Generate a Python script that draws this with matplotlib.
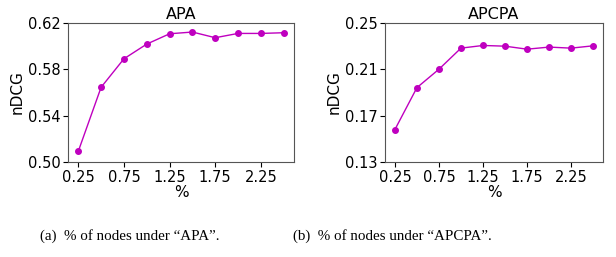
import matplotlib.pyplot as plt

# Data
percent = [0.25, 0.5, 0.75, 1.0, 1.25, 1.5, 1.75, 2.0, 2.25, 2.5]
ndcg_apa = [0.5092, 0.5645, 0.5891, 0.6018, 0.6107, 0.6122, 0.6073, 0.6110, 0.6110, 0.6116]
ndcg_apcpa = [0.1580, 0.1942, 0.2101, 0.2283, 0.2306, 0.2300, 0.2274, 0.2292, 0.2283, 0.2303]

xticks = [0.25, 0.75, 1.25, 1.75, 2.25]
yticks_apa = [0.50, 0.54, 0.58, 0.62]
yticks_apcpa = [0.13, 0.17, 0.21, 0.25]

fig = plt.figure(figsize=(6.16, 2.57), dpi=100)

panels = [
    ([68/616, 1-162/257, 226/616, 139/257], ndcg_apa, yticks_apa, 'APA'),
    ([385/616, 1-162/257, 218/616, 139/257], ndcg_apcpa, yticks_apcpa, 'APCPA'),
]

for rect, vals, yt, title in panels:
    ax = fig.add_axes(rect)
    ax.plot(percent, vals, color='m', marker='o', markersize=4, linewidth=1)
    ax.set_ylim(yt[0], yt[-1])
    ax.set_yticks(yt)
    ax.set_yticklabels(['%.2f' % v for v in yt])
    ax.set_xticks(xticks)
    ax.set_xticklabels(['%.2f' % v for v in xticks])
    ax.tick_params(labelsize=10.5, pad=2)
    ax.set_title(title, fontsize=11.5, pad=3)
    ax.set_ylabel('nDCG', fontsize=11, labelpad=2)
    ax.set_xlabel('%', fontsize=11, labelpad=0)
    for s in ax.spines.values():
        s.set_color('#555555')

fig.text(130/616, 1-236/257, '(a)  % of nodes under \u201cAPA\u201d.',
         ha='center', va='center', fontsize=10.8, family='Liberation Serif')
fig.text(392/616, 1-236/257, '(b)  % of nodes under \u201cAPCPA\u201d.',
         ha='center', va='center', fontsize=10.8, family='Liberation Serif')

fig.savefig('out.png', dpi=100)
